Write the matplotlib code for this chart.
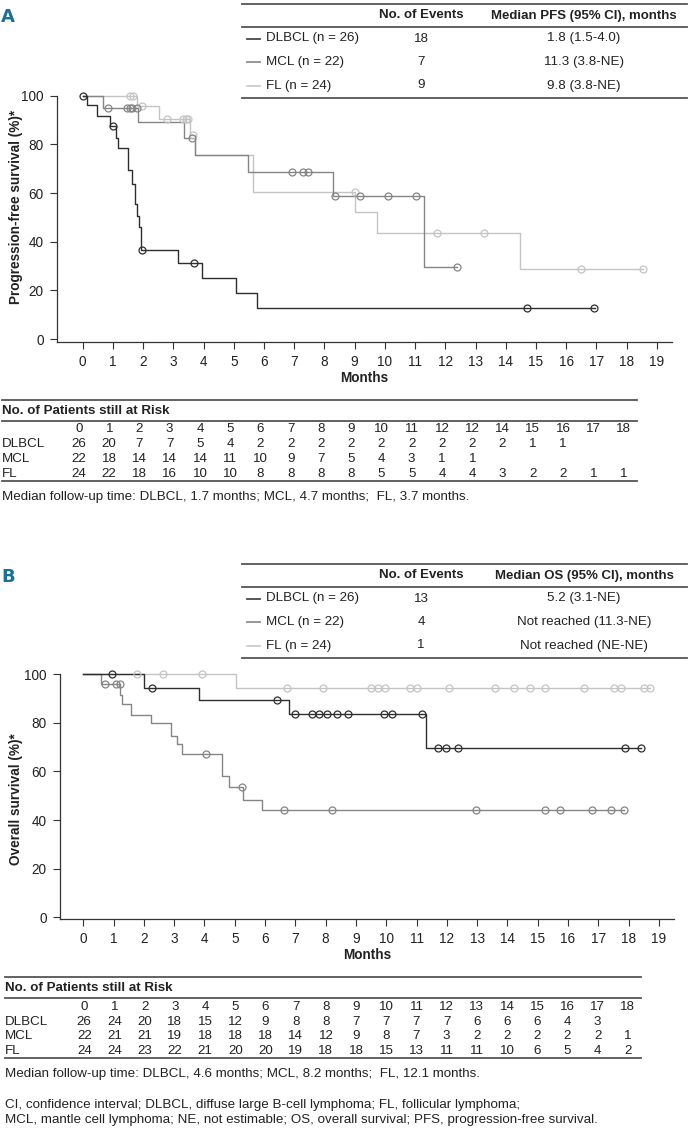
import matplotlib
matplotlib.use("Agg")
import matplotlib.pyplot as plt
from matplotlib.lines import Line2D

plt.rcParams['font.family'] = ['Liberation Sans', 'DejaVu Sans']

W, H = 688, 1131
FS = 9.6

# ---------------- data: panel A (PFS) ----------------
pfs_dlbcl_t = [0, 0.15, 0.48, 0.90, 1.10, 1.17, 1.51, 1.64, 1.73, 1.80, 1.87, 1.94, 3.17, 3.96, 5.07, 5.76, 16.95]
pfs_dlbcl_s = [100, 96.2, 91.8, 87.4, 82.6, 78.4, 69.3, 63.6, 55.4, 50.6, 46.2, 36.6, 31.4, 25.2, 18.8, 12.6, 12.6]
pfs_dlbcl_ct = [0.0, 1.0, 1.96, 3.67, 14.7, 16.93]
pfs_dlbcl_cs = [100, 87.4, 36.6, 31.4, 12.6, 12.6]

pfs_mcl_t = [0, 0.68, 1.84, 3.35, 3.70, 5.48, 8.27, 11.29, 12.38]
pfs_mcl_s = [100, 95.0, 89.0, 82.6, 75.7, 68.6, 58.7, 29.4, 29.4]
pfs_mcl_ct = [0.85, 1.46, 1.57, 1.62, 1.79, 3.63, 6.92, 7.30, 7.44, 8.35, 9.18, 10.1, 11.03, 12.38]
pfs_mcl_cs = [95.0, 95.0, 95.0, 95.0, 95.0, 82.6, 68.6, 68.6, 68.6, 58.7, 58.7, 58.7, 58.7, 29.4]

pfs_fl_t = [0, 1.79, 2.54, 3.55, 3.72, 5.62, 9.02, 9.73, 14.46, 18.53]
pfs_fl_s = [100, 95.9, 90.4, 84.0, 75.7, 60.4, 52.0, 43.5, 28.7, 28.7]
pfs_fl_ct = [1.57, 1.68, 1.95, 2.78, 3.33, 3.41, 3.48, 3.64, 9.02, 11.72, 13.29, 16.49, 18.53]
pfs_fl_cs = [100, 100, 95.9, 90.4, 90.4, 90.4, 90.4, 84.0, 60.4, 43.5, 43.5, 28.7, 28.7]

# ---------------- data: panel B (OS) ----------------
os_dlbcl_t = [0, 0.58, 1.22, 1.27, 1.56, 2.22, 2.88, 3.08, 3.25, 4.57, 4.82, 5.28, 5.89, 17.84]
os_dlbcl_s = [100, 95.9, 91.5, 87.8, 83.3, 79.8, 74.7, 71.2, 67.1, 58.3, 53.7, 48.4, 44.2, 44.2]
os_dlbcl_ct = [0.73, 1.08, 1.21, 4.04, 5.23, 6.63, 8.22, 12.95, 15.24, 15.73, 16.8, 17.42, 17.84]
os_dlbcl_cs = [95.9, 95.9, 95.9, 67.1, 53.7, 44.2, 44.2, 44.2, 44.2, 44.2, 44.2, 44.2, 44.2]

os_mcl_t = [0, 2.0, 3.83, 6.78, 11.3, 18.4]
os_mcl_s = [100, 94.5, 89.4, 83.7, 69.8, 69.8]
os_mcl_ct = [0.94, 2.28, 6.38, 6.99, 7.56, 7.78, 8.03, 8.38, 8.75, 9.93, 10.18, 11.19, 11.72, 11.96, 12.38, 17.88, 18.4]
os_mcl_cs = [100, 94.5, 89.4, 83.7, 83.7, 83.7, 83.7, 83.7, 83.7, 83.7, 83.7, 83.7, 69.8, 69.8, 69.8, 69.8, 69.8]

os_fl_t = [0, 5.04, 18.72]
os_fl_s = [100, 94.5, 94.5]
os_fl_ct = [1.76, 2.64, 3.91, 6.71, 7.9, 9.49, 9.74, 9.96, 10.78, 11.0, 12.07, 13.59, 14.22, 14.74,
            15.24, 16.52, 17.51, 17.75, 18.5, 18.72]
os_fl_cs = [100, 100, 100] + [94.5] * 17

# ---------------- legend tables ----------------
groups = ['DLBCL (n = 26)', 'MCL (n = 22)', 'FL (n = 24)']
pfs_events = ['18', '7', '9']
pfs_median = ['1.8 (1.5-4.0)', '11.3 (3.8-NE)', '9.8 (3.8-NE)']
os_events = ['13', '4', '1']
os_median = ['5.2 (3.1-NE)', 'Not reached (11.3-NE)', 'Not reached (NE-NE)']

# ---------------- risk tables ----------------
risk_rows = ['DLBCL', 'MCL', 'FL']
pfs_risk_months = ['0', '1', '2', '3', '4', '5', '6', '7', '8', '9', '10', '11', '12', '12', '14', '15', '16', '17', '18']
pfs_risk_dlbcl = [26, 20, 7, 7, 5, 4, 2, 2, 2, 2, 2, 2, 2, 2, 2, 1, 1]
pfs_risk_mcl = [22, 18, 14, 14, 14, 11, 10, 9, 7, 5, 4, 3, 1, 1]
pfs_risk_fl = [24, 22, 18, 16, 10, 10, 8, 8, 8, 8, 5, 5, 4, 4, 3, 2, 2, 1, 1]
os_risk_months = [str(m) for m in range(19)]
os_risk_dlbcl = [26, 24, 20, 18, 15, 12, 9, 8, 8, 7, 7, 7, 7, 6, 6, 6, 4, 3]
os_risk_mcl = [22, 21, 21, 19, 18, 18, 18, 14, 12, 9, 8, 7, 3, 2, 2, 2, 2, 2, 1]
os_risk_fl = [24, 24, 23, 22, 21, 20, 20, 19, 18, 18, 15, 13, 11, 11, 10, 6, 5, 4, 2]

DARK, MID, LIGHT = '#2e2e2e', '#858585', '#c4c4c4'
LEG_COLORS = ['#4a4a4a', '#8e8e8e', '#cccccc']
RULE = '#555555'
LETTER = '#1b6f98'
TXT = '#222222'

fig = plt.figure(figsize=(W / 100, H / 100), dpi=100)


def fx(px):
    return px / W


def fy(py):
    return 1 - py / H


def hrule(x0, x1, y, lw=1.3, color=RULE):
    fig.add_artist(Line2D([fx(x0), fx(x1)], [fy(y), fy(y)], transform=fig.transFigure,
                          color=color, lw=lw))


def km_axes(left, right, y100, yaxis, xmin, ylow, curves, ylabel, ylab_xy, xlab_y):
    ytop = 102
    ppu = (yaxis - y100) / (100 - ylow)
    top_px = y100 - (ytop - 100) * ppu
    ax = fig.add_axes([fx(left), fy(yaxis), (right - left) / W, (yaxis - top_px) / H])
    for t, s, ct, cs, c in curves:
        ax.step(t, s, where='post', color=c, lw=1.0, zorder=2)
        ax.plot(ct, cs, ls='none', marker='o', ms=5, mfc='none', mec=c, mew=0.9, zorder=3)
    ax.set_xlim(xmin, 19.5)
    ax.set_ylim(ylow, ytop)
    ax.spines['top'].set_visible(False)
    ax.spines['right'].set_visible(False)
    ax.spines['left'].set_bounds(ylow, 100)
    for sp in ('left', 'bottom'):
        ax.spines[sp].set_linewidth(0.9)
        ax.spines[sp].set_color('#333333')
    ax.set_xticks(range(20))
    ax.set_yticks(range(0, 101, 20))
    ax.tick_params(length=5, width=0.8, color='#333333', labelsize=9.8, pad=4.5, labelcolor=TXT)
    fig.text(fx(ylab_xy[0]), fy(ylab_xy[1]), ylabel, rotation=90, ha='center', va='center',
             fontsize=9.8, fontweight='bold', color=TXT)
    fig.text(fx((left + right) / 2), fy(xlab_y), 'Months', ha='center', va='center',
             fontsize=9.8, fontweight='bold', color=TXT)
    return ax


def legend_table(y0, letter, events, medians, median_head):
    fig.text(fx(1), fy(y0 + 17.5), letter, ha='left', va='center', fontsize=13, fontweight='bold',
             color=LETTER, family=['Liberation Sans Narrow', 'DejaVu Sans'])
    hrule(242, 687, y0 + 4)
    hrule(242, 687, y0 + 26.5)
    hrule(242, 687, y0 + 97.7)
    fig.text(fx(421), fy(y0 + 15.5), 'No. of Events', ha='center', va='center', fontsize=9.5,
             fontweight='bold', color=TXT)
    fig.text(fx(584), fy(y0 + 15.5), median_head, ha='center', va='center', fontsize=9.5,
             fontweight='bold', color=TXT)
    for i, (g, e, m) in enumerate(zip(groups, events, medians)):
        yy = y0 + [38.5, 62, 85.5][i]
        fig.add_artist(Line2D([fx(246.5), fx(260)], [fy(yy), fy(yy)], transform=fig.transFigure,
                              color=LEG_COLORS[i], lw=1.3))
        fig.text(fx(265.5), fy(yy), g, ha='left', va='center', fontsize=FS, color=TXT)
        fig.text(fx(421), fy(yy), e, ha='center', va='center', fontsize=FS, color=TXT)
        fig.text(fx(584), fy(yy), m, ha='center', va='center', fontsize=FS, color=TXT)


def risk_table(x_left, y_rule, x0, dx, months, rows, followup):
    x_end = x0 + 18 * dx + 13
    hrule(x_left, x_end, y_rule)
    fig.text(fx(x_left), fy(y_rule + 10.7), 'No. of Patients still at Risk', ha='left', va='center',
             fontsize=9.6, fontweight='bold', color=TXT)
    hrule(x_left, x_end, y_rule + 20.5)
    for j, m in enumerate(months):
        fig.text(fx(x0 + j * dx), fy(y_rule + 29.3), m, ha='center', va='center', fontsize=FS,
                 color=TXT)
    for i, (name, vals) in enumerate(zip(risk_rows, rows)):
        yy = y_rule + 44.3 + i * 14.8
        fig.text(fx(x_left), fy(yy), name, ha='left', va='center', fontsize=FS, color=TXT)
        for j, v in enumerate(vals):
            fig.text(fx(x0 + j * dx), fy(yy), str(v), ha='center', va='center', fontsize=FS,
                     color=TXT)
    hrule(x_left, x_end, y_rule + 81)
    fig.text(fx(x_left), fy(y_rule + 96.7), followup, ha='left', va='center', fontsize=FS,
             color=TXT)


# ---------------- panel A ----------------
legend_table(0, 'A', pfs_events, pfs_median, 'Median PFS (95% CI), months')
km_axes(57, 672, 95.7, 341.7, -0.85, -1.1,
        [(pfs_fl_t, pfs_fl_s, pfs_fl_ct, pfs_fl_cs, LIGHT),
         (pfs_mcl_t, pfs_mcl_s, pfs_mcl_ct, pfs_mcl_cs, MID),
         (pfs_dlbcl_t, pfs_dlbcl_s, pfs_dlbcl_ct, pfs_dlbcl_cs, DARK)],
        'Progression-free survival (%)*', (16, 207), 378)
risk_table(2, 400, 79, 30.25, pfs_risk_months, [pfs_risk_dlbcl, pfs_risk_mcl, pfs_risk_fl],
           'Median follow-up time: DLBCL, 1.7 months; MCL, 4.7 months;  FL, 3.7 months.')

# ---------------- panel B ----------------
legend_table(560, 'B', os_events, os_median, 'Median OS (95% CI), months')
km_axes(60, 674, 674.3, 919, -0.77, -0.7,
        [(os_fl_t, os_fl_s, os_fl_ct, os_fl_cs, LIGHT),
         (os_dlbcl_t, os_dlbcl_s, os_dlbcl_ct, os_dlbcl_cs, MID),
         (os_mcl_t, os_mcl_s, os_mcl_ct, os_mcl_cs, DARK)],
        'Overall survival (%)*', (16, 799), 955)
risk_table(5, 977.3, 84.3, 30.2, os_risk_months, [os_risk_dlbcl, os_risk_mcl, os_risk_fl],
           'Median follow-up time: DLBCL, 4.6 months; MCL, 8.2 months;  FL, 12.1 months.')

fig.text(fx(5), fy(1105), 'CI, confidence interval; DLBCL, diffuse large B-cell lymphoma; FL, follicular lymphoma;',
         ha='left', va='center', fontsize=FS, color=TXT)
fig.text(fx(5), fy(1119.5), 'MCL, mantle cell lymphoma; NE, not estimable; OS, overall survival; PFS, progression-free survival.',
         ha='left', va='center', fontsize=FS, color=TXT)

fig.savefig('out.png', dpi=100)
